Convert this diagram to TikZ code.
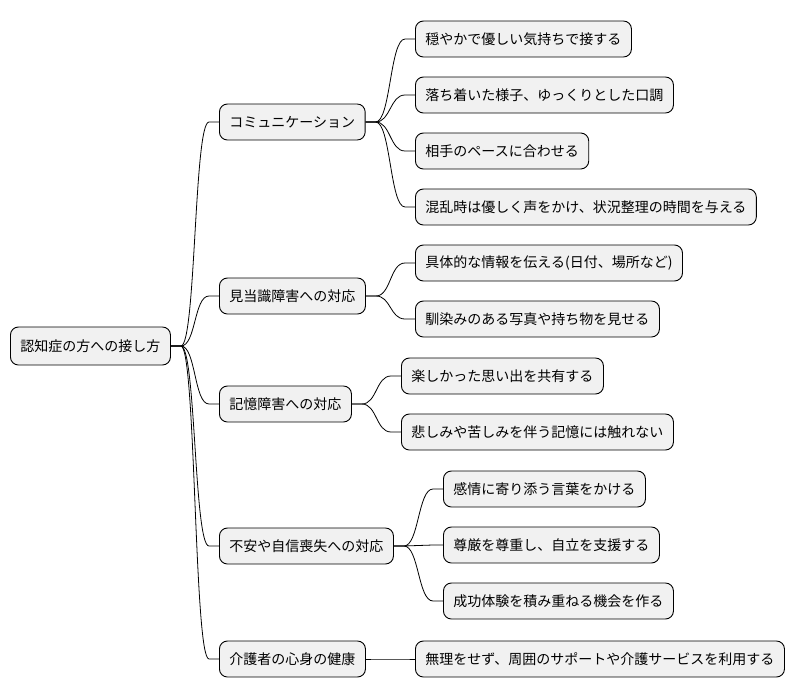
\documentclass[tikz,border=0pt]{standalone}
\usepackage{fontspec}
\setmainfont{Noto Sans CJK JP}
\usepackage{tikz}
\usetikzlibrary{positioning}
\definecolor{boxfill}{HTML}{F1F1F1}

\begin{document}
\begin{tikzpicture}[
  x=1pt,y=-1pt,
  item/.style={rectangle,draw,line width=0.9pt,rounded corners=8pt,fill=boxfill,
               anchor=west,minimum height=36pt,inner xsep=10pt,
               font=\fontsize{14}{16}\selectfont},
  link/.style={line width=0.8pt},
]
  \useasboundingbox (0,0) rectangle (796,696);

  % Root
  \node[item,minimum height=38pt] (root) at (10,346) {認知症の方への接し方};

  % Main branches
  \node[item] (comm)    at (219,122) {コミュニケーション};
  \node[item] (orient)  at (219,296) {見当識障害への対応};
  \node[item] (memory)  at (219,404) {記憶障害への対応};
  \node[item] (anxiety) at (219,546) {不安や自信喪失への対応};
  \node[item] (carer)   at (219,659) {介護者の心身の健康};

  % Leaves
  \node[item] (c1) at (415,39)  {穏やかで優しい気持ちで接する};
  \node[item] (c2) at (415,95)  {落ち着いた様子、ゆっくりとした口調};
  \node[item] (c3) at (415,151) {相手のペースに合わせる};
  \node[item] (c4) at (415,207) {混乱時は優しく声をかけ、状況整理の時間を与える};
  \node[item] (o1) at (415,263) {具体的な情報を伝える(日付、場所など)};
  \node[item] (o2) at (415,319) {馴染みのある写真や持ち物を見せる};
  \node[item] (m1) at (401,376) {楽しかった思い出を共有する};
  \node[item] (m2) at (401,432) {悲しみや苦しみを伴う記憶には触れない};
  \node[item] (a1) at (443,489) {感情に寄り添う言葉をかける};
  \node[item] (a2) at (443,545) {尊厳を尊重し、自立を支援する};
  \node[item] (a3) at (443,601) {成功体験を積み重ねる機会を作る};
  \node[item] (k1) at (415,659) {無理をせず、周囲のサポートや介護サービスを利用する};

  % Connectors
  \foreach \p/\c in {root/comm,root/orient,root/memory,root/anxiety,root/carer,
                     comm/c1,comm/c2,comm/c3,comm/c4,orient/o1,orient/o2,
                     memory/m1,memory/m2,anxiety/a1,anxiety/a2,anxiety/a3,carer/k1}
    \draw[link] (\p.east) -- ++(10,0)
      .. controls +(15,0) and +(-15,0) .. ([xshift=-10pt]\c.west) -- (\c.west);
\end{tikzpicture}
\end{document}
